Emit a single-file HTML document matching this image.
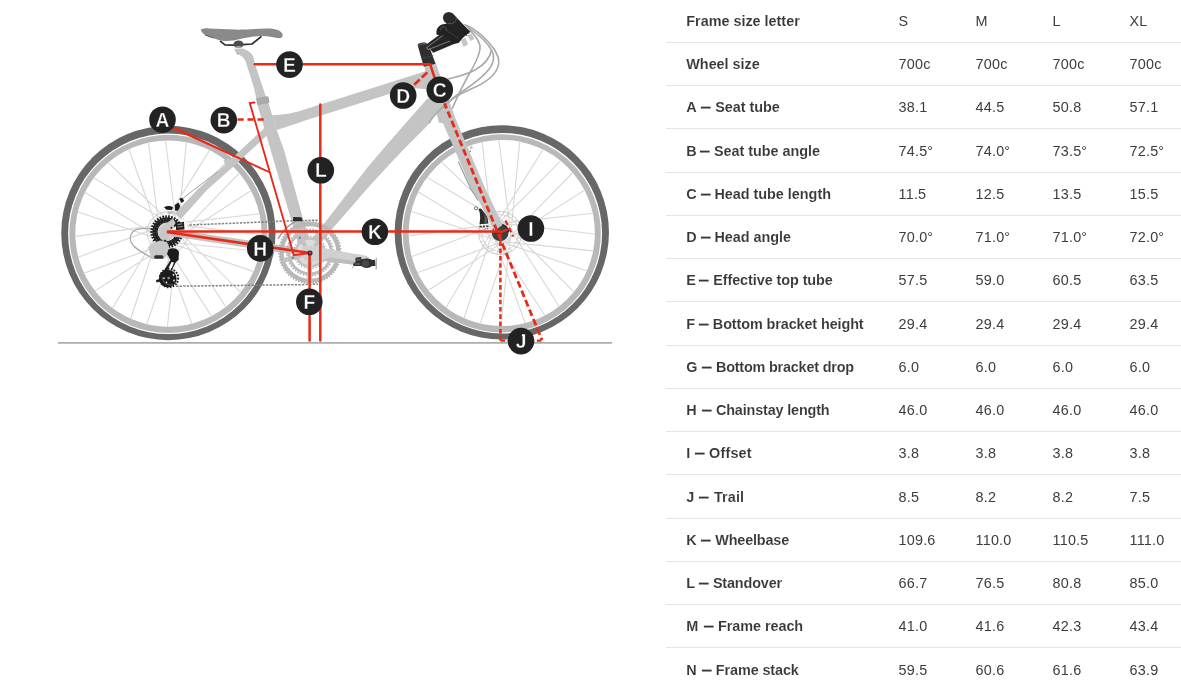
<!DOCTYPE html>
<html lang="en">
<head>
<meta charset="utf-8">
<title>Geometry</title>
<style>
html,body{margin:0;padding:0;background:#fff;}
body{width:1181px;height:688px;overflow:hidden;position:relative;font-family:"Liberation Sans",Arial,sans-serif;color:#333;}
#geo{position:absolute;left:666px;top:-1px;width:521px;border-collapse:collapse;border-spacing:0;table-layout:fixed;font-size:14.4px;will-change:transform;}
#geo tr{height:43px;}
#geo tr.x{height:44px;}
#geo th,#geo td{box-sizing:border-box;height:43px;padding:11px 0 0 20px;text-align:left;vertical-align:top;border-bottom:1px solid #e5e5e5;white-space:nowrap;line-height:20px;overflow:hidden;}
#geo tr.x th,#geo tr.x td{height:44px;}
#geo tr.f th,#geo tr.f td,#geo tr.x th,#geo tr.x td{padding-top:12px;}
#geo th{font-weight:bold;width:213px;padding-left:20.3px;color:#383838;-webkit-text-stroke:.08px #fff;}
#geo td{font-weight:normal;width:77px;padding-left:19.6px;color:#3d3d3d;letter-spacing:.18px;}
#geo .d{display:inline-block;width:10.6px;margin-left:-.2px;height:20px;vertical-align:top;letter-spacing:0;}
#geo .d i{display:inline-block;font-style:normal;transform:scaleX(.66);transform-origin:0 50%;-webkit-text-stroke:.3px #383838;}
#bike{position:absolute;left:0;top:0;will-change:transform;}
#bike text{font-family:"Liberation Sans",Arial,sans-serif;font-weight:bold;fill:#fff;text-anchor:middle;}
</style>
</head>
<body>
<svg id="bike" width="660" height="380" viewBox="0 0 660 380">
<line x1="58" y1="342.9" x2="612" y2="342.9" stroke="#adadad" stroke-width="1.6"/>
<g>
<circle cx="168.4" cy="233" r="107.15" fill="#676767"/>
<circle cx="168.4" cy="233.8" r="100.3" fill="#fff"/>
<circle cx="168.4" cy="233.9" r="99.05" fill="#b8b8b8"/>
<circle cx="168.4" cy="233.6" r="93.1" fill="#fff"/>
<path d="M163.7 240.6L84.7 192.2M173.1 225.3L93.5 177.8M174.7 226.5L108 162.4M159.9 236L128.8 149M159.5 234.1L148.6 142.3M177.3 231.8L165.4 140.2M177.4 233.9L186.4 142M160.8 228.2L209.8 149.9M162 226.7L227.4 161.2M174.9 239.3L239.5 173M173.3 240.6L251.3 190.6M167.3 224.1L259.7 213.8M169.4 224.1L261.8 234.6M167.5 242L260.1 251.4M165.6 241.5L253.7 271.6M174.7 226.6L240.8 292.6M176 228.2L225.9 307.2M160.9 237.9L211.6 316.4M159.9 236.1L191.9 324M177.3 234L167.4 327M176.9 235.9L146.7 324.4M159.9 230.2L130.6 319M160.7 228.3L112.4 308.3M173.2 240.6L94.7 291M171.4 241.5L83.8 273.2M165.3 224.6L78.1 257.3M167.3 224.1L75 236.4M165.5 241.5L77.6 211.8" fill="none" stroke="#d9d9d9" stroke-width="1.15"/>
</g>
<g>
<circle cx="501.8" cy="232.4" r="107.15" fill="#676767"/>
<circle cx="501.8" cy="233.2" r="100.3" fill="#fff"/>
<circle cx="501.8" cy="233.4" r="99.05" fill="#b8b8b8"/>
<circle cx="501.8" cy="233" r="93.1" fill="#fff"/>
<path d="M497.1 240.1L418.1 191.7M506.5 224.7L426.9 177.2M508.1 226L441.4 161.8M493.3 235.5L462.2 148.5M492.9 233.5L482 141.8M510.7 231.3L498.8 139.7M510.8 233.3L519.8 141.4M494.2 227.7L543.2 149.3M495.4 226.1L560.8 160.6M508.3 238.7L572.9 172.5M506.7 240L584.7 190M500.7 223.5L593.1 213.2M502.8 223.5L595.2 234M500.9 241.4L593.5 250.9M499 241L587.1 271M508.1 226.1L574.2 292.1M509.4 227.6L559.3 306.7M494.3 237.4L545 315.8M493.3 235.5L525.3 323.4M510.7 233.4L500.8 326.4M510.3 235.4L480.1 323.9M493.3 229.6L464 318.5M494.1 227.8L445.8 307.8M506.6 240L428.1 290.5M504.8 240.9L417.2 272.7M498.7 224L411.5 256.8M500.7 223.5L408.4 235.9M498.9 241L411 211.3" fill="none" stroke="#d9d9d9" stroke-width="1.15"/>
</g>
<g transform="translate(120 190) scale(0.1)">
<circle cx="478" cy="425" r="207" fill="none" stroke="#c9c9c9" stroke-width="9"/>
<circle cx="478" cy="425" r="188" fill="none" stroke="#dadada" stroke-width="7" stroke-dasharray="30 14"/>
<path d="M420 405 C330 385 250 375 180 392 C110 410 90 470 110 520 C140 590 250 640 335 685" fill="none" stroke="#a8a8a8" stroke-width="12"/>
<circle cx="468" cy="418" r="118" fill="none" stroke="#1e1e1e" stroke-width="52"/>
<circle cx="468" cy="418" r="152" fill="none" stroke="#1e1e1e" stroke-width="26" stroke-dasharray="17 12"/>
<circle cx="468" cy="418" r="128" fill="none" stroke="#e8e8e8" stroke-width="5" stroke-dasharray="9 26"/>
<circle cx="468" cy="418" r="104" fill="none" stroke="#e8e8e8" stroke-width="5" stroke-dasharray="7 21"/>
<circle cx="468" cy="418" r="90" fill="#d2d2d2"/>
<path d="M478 420 L650 300 L700 420 L640 470Z" fill="#fff"/>
<path d="M560 330 L640 318 L645 395 L560 400Z" fill="#1e1e1e"/>
<path d="M575 345 L625 338 M575 370 L630 366" fill="none" stroke="#e8e8e8" stroke-width="6"/>
<path d="M392 388 L530 285 L556 330 L508 402 L492 500 L440 528 L398 470Z" fill="#c8c8c8"/>
<circle cx="450" cy="512" r="14" fill="#1c1c1c"/>
<circle cx="515" cy="378" r="10" fill="#1c1c1c"/>
<path d="M440 172 C470 155 510 160 530 172 L520 200 L465 198Z" fill="#1c1c1c"/>
<path d="M548 150 L585 125 L602 160 L585 210 L550 205Z" fill="#1c1c1c"/>
<path d="M592 88 L625 78 L642 110 L615 130Z" fill="#1c1c1c"/>
<path d="M470 215 L540 212 L545 235 L480 240Z" fill="#bdbdbd"/>
<path d="M280 570 L330 530 L400 505 L470 520 L500 590 L470 660 L440 690 L330 690 L300 640Z" fill="#c8c8c8"/>
<rect x="342" y="652" width="92" height="36" rx="16" fill="#2e2e2e"/>
<path d="M485 595 C520 570 580 580 590 620 L585 700 L560 720 L490 850 L425 830 L505 700 L470 640Z" fill="#1c1c1c"/>
<path d="M515 720 L470 810 L500 820 L540 725Z" fill="#fff"/>
<circle cx="478" cy="885" r="88" fill="#1c1c1c"/>
<circle cx="490" cy="880" r="92" fill="none" stroke="#1c1c1c" stroke-width="20" stroke-dasharray="16 14"/>
<path d="M360 900 L400 890 L405 915 L365 925Z" fill="#1c1c1c"/>
<circle cx="486" cy="880" r="13" fill="#7f9aa5"/>
<circle cx="440" cy="882" r="9" fill="#ddd"/><circle cx="465" cy="925" r="9" fill="#ddd"/><circle cx="535" cy="850" r="9" fill="#ddd"/><circle cx="540" cy="905" r="9" fill="#ddd"/>
<path d="M420 870 C430 930 480 960 530 945" fill="none" stroke="#777" stroke-width="7"/>
</g>
<g transform="translate(445 195) scale(0.1)">
<circle cx="552" cy="380" r="199" fill="none" stroke="#d2d2d2" stroke-width="26" stroke-dasharray="10 38"/>
<circle cx="552" cy="380" r="215" fill="none" stroke="#bcbcbc" stroke-width="8"/>
<circle cx="552" cy="380" r="183" fill="none" stroke="#c4c4c4" stroke-width="7"/>
<circle cx="552" cy="380" r="120" fill="none" stroke="#d4d4d4" stroke-width="7"/>
<circle cx="552" cy="378" r="84" fill="#3a4043"/>
<path d="M560 292 C600 300 630 330 638 370" fill="none" stroke="#23282a" stroke-width="14"/>
<path d="M335 140 L360 135 L395 180 L425 215 L432 285 L345 292 L352 230 L348 180Z" fill="#2b2b2b"/>
<path d="M395 185 C420 215 425 250 420 285 L395 287Z" fill="#5a5a5a"/>
<circle cx="310" cy="132" r="16" fill="none" stroke="#666" stroke-width="9"/>
<path d="M345 318 L440 312" fill="none" stroke="#333" stroke-width="16" stroke-dasharray="22 12"/>
<path d="M395 340 L440 336" fill="none" stroke="#555" stroke-width="10" stroke-dasharray="14 10"/>
</g>
<g fill="#c4c4c4" stroke="none">
<polygon points="265.5,127 270,132.5 234,166 207,190 181,219 175,213.5 197,190 228,162"/>
<polygon points="223.5,160.5 229,158.5 232,163 226,166"/>
<polygon points="170,229 310,249.5 310,257 170,236"/>
<polygon points="257,103.5 268.2,102 276.2,128.6 284,150 302.6,217.2 313,250 300.5,252 290.4,217.2"/>
<path d="M272 115.2 C285 114.6 295 112.8 302 110.2 L424 71.8 L428 70.5 L440 96 L428 98.5 L426.3 89.2 L416 88.3 L405 89.3 L390 93.8 L315.5 117.2 C300 122 288 126.5 276.5 130Z"/>
<path d="M427 99 L440 95 L446 104 C438 110 432 117 429 122.5 L427.5 125.5 L410 143 L393.5 160 L370 185.5 L333 228.1 L318 247 L303 250 L325.5 221.8 L367 168.1 L384 148 L404 125Z"/>
<polygon points="424.2,66.5 435.8,63.2 457,123 439,123"/>
<polygon points="439,119 455.6,119 485,188.1 489.5,197 502.5,225 494.5,231 478.3,200 470.8,188.1 455.3,151 440.5,118"/>
</g>
<g transform="translate(195 20) scale(0.1)">
<path d="M390 287 L480 285 C530 300 565 330 582 362 L600 440 L680 681 L728 830 L622 830 L590 681 L508 420 C500 390 480 370 455 355 L412 332 Z" fill="#c4c4c4"/>
<path d="M58 98 C70 88 100 82 140 84 L400 96 C500 98 600 88 720 86 C800 86 850 100 872 135 C885 160 870 182 845 182 C800 178 740 160 670 160 C600 160 520 175 450 190 C400 205 330 215 270 208 C220 200 150 170 100 150 C80 135 60 115 58 98Z" fill="#8a8a8a"/>
<path d="M100 150 L185 180" fill="none" stroke="#555" stroke-width="9"/>
<path d="M250 208 L300 248 L395 252 M478 247 L570 240 L665 163" fill="none" stroke="#2c2c2c" stroke-width="17" stroke-linejoin="round"/>
<ellipse cx="435" cy="243" rx="50" ry="38" fill="#4d4d4d"/>
<ellipse cx="437" cy="270" rx="30" ry="10" fill="#a5a5a5"/>
<circle cx="426" cy="336" r="9" fill="#9a9a9a"/>
</g>
<path d="M256.3 99.6 Q256 98.3 257.3 98 L267 96.2 Q268.3 96 268.6 97.2 L269.4 101.6 Q269.6 102.9 268.4 103.1 L258.6 104.9 Q257.3 105.1 257 103.9Z" fill="#aaaaaa"/>
<g fill="none" stroke="#a9a9a9" stroke-width="1.6" stroke-linecap="round">
<path d="M465 24.8 C476 29 488 40 494 49 C499 57 500 62 497.5 68 C495 74 488 82 471 89 C462 93 452 98 445 105 C438 111 432 118 429 123"/>
<path d="M467 26.9 C478 34 488 43 492 51 C495 57 494 62 490 68 C485 75 475 83 463 91 C455 96 448 102 443 108"/>
<path d="M469 29.4 C476 36 481 42 480 49 C479 57 474 66 468 76 C463 85 457 97 452.5 108"/>
<path d="M491.5 50 C490 58 484 65 475 70 C466 75 456 77 448 79"/>
</g>
<path d="M458.2 161.5 L470.6 188.5 L478 200.5" fill="none" stroke="#9a9a9a" stroke-width="1.1"/>
<circle cx="471.2" cy="147.6" r="1.5" fill="#c4c4c4"/><circle cx="470.2" cy="151.2" r="0.8" fill="#777"/>
<path d="M217.6 171.8 L183.2 198" fill="none" stroke="#a2a2a2" stroke-width="1"/>
<g transform="translate(410 5) scale(0.1017293997965412)">
<path d="M498 345 L545 322 L572 385 L527 412Z" fill="#c6c6c6"/>
<path d="M563 298 L606 282 L634 335 L594 354Z" fill="#c6c6c6"/>
<path d="M75 392 C76 368 160 358 168 382 L200 440 L252 578 L135 606Z" fill="#2f2f2f"/>
<path d="M82 398 C110 380 150 374 170 388" fill="none" stroke="#8c8c8c" stroke-width="6"/>
<path d="M118 525 L232 497" fill="none" stroke="#555" stroke-width="5"/>
<path d="M160 388 L330 262 L450 375 L228 470Z" fill="#262626"/>
<path d="M345 283 L163 418 L176 440 L405 350" fill="none" stroke="#b4b4b4" stroke-width="6" stroke-linejoin="round"/>
<path d="M262 292 C252 240 275 200 325 188 L410 178 L565 250 L588 275 L545 290 L478 374 L425 384 L335 300Z" fill="#222"/>
<path d="M300 250 C300 215 335 205 350 225 L365 255" fill="none" stroke="#777" stroke-width="6"/>
<path d="M365 255 L480 330" fill="none" stroke="#555" stroke-width="5"/>
<path d="M420 84 L592 262 L505 335 L338 160Z" fill="#232323"/>
<circle cx="381" cy="125" r="57" fill="#2b2b2b"/>
<path d="M372 180 C420 195 465 165 452 112" fill="none" stroke="#777" stroke-width="6"/>
<path d="M540 270 L560 305" fill="none" stroke="#222" stroke-width="8"/>
</g>
<path d="M189.5 225 L297 220.6 L318 220.2 M176 286.2 L304.5 284.6 L318 284.2" fill="none" stroke="#808080" stroke-width="1.5" stroke-dasharray="2.3 1.3"/>
<path d="M302.5 219.3 C294 220.5 284 228 278 239" fill="none" stroke="#999" stroke-width="1.5"/>
<circle cx="310" cy="252.5" r="28.4" fill="none" stroke="#b8b8b8" stroke-width="4.2"/>
<circle cx="310" cy="252.5" r="30.8" fill="none" stroke="#b0b0b0" stroke-width="1.8" stroke-dasharray="1.5 1.45"/>
<circle cx="310" cy="252.5" r="21.2" fill="none" stroke="#bdbdbd" stroke-width="3"/>
<circle cx="310" cy="252.5" r="23.2" fill="none" stroke="#b4b4b4" stroke-width="1.6" stroke-dasharray="1.5 1.5"/>
<circle cx="310" cy="252.5" r="14" fill="#dcdcdc" stroke="#c2c2c2" stroke-width="2.6"/>
<circle cx="310" cy="252.5" r="16" fill="none" stroke="#b8b8b8" stroke-width="1.5" stroke-dasharray="1.5 1.5"/>
<path d="M304.3 244.3L294.8 230.8M316 244.5L325.9 231.3M319.5 255.8L335.1 261.1M309.8 262.5L309.5 279M300.4 255.4L284.7 260.2" fill="none" stroke="#c2c2c2" stroke-width="4.5" stroke-linecap="round"/>
<circle cx="299.7" cy="237.8" r="1.1" fill="#777"/>
<circle cx="320.8" cy="238.1" r="1.1" fill="#777"/>
<circle cx="327" cy="258.4" r="1.1" fill="#777"/>
<circle cx="309.7" cy="270.5" r="1.1" fill="#777"/>
<circle cx="292.8" cy="257.8" r="1.1" fill="#777"/>
<path d="M303 246.5 C306 244.5 315 245.5 321 247.5 L341 251.5 L365 255.5 C370 256.5 370 259 367 260.5 L352 264.5 L321 260.5 L309 262 C303 262 300 252 303 246.5Z" fill="#d0d0d0"/>
<path d="M321 260.5 L352 264.5 L362 262 L330 257.5Z" fill="#bdbdbd"/>
<g transform="translate(265 210) scale(0.1)">
<path d="M905 478 L960 470 L965 492 L1000 488 C1030 482 1060 492 1075 500 L1100 497 L1105 560 L1070 560 C1040 585 990 585 965 560 L885 560 L880 540 L905 520Z" fill="#303030"/>
<circle cx="1005" cy="535" r="36" fill="#474747"/>
<path d="M1112 480 L1112 592" stroke="#8e8e8e" stroke-width="10" fill="none"/>
<path d="M915 500 L955 497 M900 540 L950 540" stroke="#9a9a9a" stroke-width="7" fill="none"/>
<path d="M885 560 L872 585" stroke="#8e8e8e" stroke-width="7" fill="none"/>
</g>
<path d="M293.2 217 L301.5 217.2 L302.5 221.2 L293 221Z" fill="#2a2a2a"/>
<g fill="none" stroke="#e82b19" stroke-linecap="round">
<path d="M254.8 64.2 L430.3 64.2" stroke-width="2.5"/>
<path d="M430.3 64.7 L435 79" stroke-width="2.5"/>
<path d="M320.3 104.5 L320.3 340.4" stroke-width="2.5"/>
<path d="M309.6 253 L309.6 340.4" stroke-width="2.5"/>
<path d="M168 231.4 L500.5 231.4" stroke-width="2.5"/>
<path d="M168 232.3 L310 253" stroke-width="2.6"/>
<path d="M254.5 102.5 L249.8 103.1 L293.8 255.2 L310 253" stroke-width="1.9" stroke-linejoin="miter"/>
</g>
<path d="M170.6 127.9 L171.8 125.5 L270 171.6 L269.2 173.1Z" fill="#e82b19"/>
<g fill="none" stroke="#e82b19" stroke-linecap="butt">
<path d="M237.5 119.5 L264 119.5" stroke-width="2.6" stroke-dasharray="6.2 3.8"/>
<path d="M414.2 84.7 L428.6 71.2" stroke-width="2.7" stroke-dasharray="7.6 2.8"/>
<path d="M444.5 103.4 L542 340" stroke-width="2.8" stroke-dasharray="6.9 3.3" stroke-dashoffset="1.5"/>
<path d="M500.4 234 L500.4 340.5" stroke-width="2.5" stroke-dasharray="4.6 2.7"/>
<path d="M500.4 340.7 L541.5 340.7" stroke-width="2.3" stroke-dasharray="4.6 2.7"/>
<path d="M505.5 220.5 L513.2 236.4" stroke-width="2.3" stroke-dasharray="5 3"/>
<path d="M499.7 232.4 L507.6 229.6" stroke-width="2.3"/>
</g>
<circle cx="310" cy="253" r="2" fill="#e82b19" stroke="#1d2a2e" stroke-width="1.1"/>
<circle cx="162.5" cy="119.7" r="13.3" fill="#222"/><text transform="translate(162.5 126.8) scale(0.96 1)" font-size="20" stroke="#222" stroke-width="0.3">A</text>
<circle cx="223.8" cy="120.1" r="13.3" fill="#222"/><text transform="translate(223.8 127.2) scale(0.96 1)" font-size="20" stroke="#222" stroke-width="0.3">B</text>
<circle cx="439.8" cy="89.8" r="13.3" fill="#222"/><text transform="translate(439.8 96.9) scale(0.96 1)" font-size="20" stroke="#222" stroke-width="0.3">C</text>
<circle cx="403.2" cy="95.5" r="13.3" fill="#222"/><text transform="translate(403.2 102.6) scale(0.96 1)" font-size="20" stroke="#222" stroke-width="0.3">D</text>
<circle cx="289.5" cy="64.6" r="13.3" fill="#222"/><text transform="translate(289.5 71.7) scale(0.96 1)" font-size="20" stroke="#222" stroke-width="0.3">E</text>
<circle cx="309.3" cy="301.8" r="13.3" fill="#222"/><text transform="translate(309.3 308.9) scale(0.96 1)" font-size="20" stroke="#222" stroke-width="0.3">F</text>
<circle cx="260.2" cy="248.4" r="13.3" fill="#222"/><text transform="translate(260.2 255.5) scale(0.96 1)" font-size="20" stroke="#222" stroke-width="0.3">H</text>
<circle cx="530.9" cy="228.5" r="13.3" fill="#222"/><text transform="translate(530.9 235.6) scale(0.96 1)" font-size="20" stroke="#222" stroke-width="0.3">I</text>
<circle cx="521" cy="341.1" r="13.3" fill="#222"/><text transform="translate(521 348.2) scale(0.96 1)" font-size="20" stroke="#222" stroke-width="0.3">J</text><rect x="518.8" y="333.6" width="3.1" height="3.2" fill="#222"/>
<circle cx="374.9" cy="231.8" r="13.3" fill="#222"/><text transform="translate(374.9 238.9) scale(0.96 1)" font-size="20" stroke="#222" stroke-width="0.3">K</text>
<circle cx="320.8" cy="170.3" r="13.3" fill="#222"/><text transform="translate(320.8 177.4) scale(0.96 1)" font-size="20" stroke="#222" stroke-width="0.3">L</text>
</svg>
<table id="geo">
<tr class="f"><th><span style="letter-spacing:-0.008px">Frame size letter</span></th><td>S</td><td>M</td><td>L</td><td>XL</td></tr>
<tr><th><span style="letter-spacing:-0.022px">Wheel size</span></th><td>700c</td><td>700c</td><td>700c</td><td>700c</td></tr>
<tr><th>A <span class="d" style="margin-left:0.85px;width:10.29px"><i>—</i></span> <span style="letter-spacing:-0.026px">Seat tube</span></th><td>38.1</td><td>44.5</td><td>50.8</td><td>57.1</td></tr>
<tr class="x"><th>B <span class="d" style="margin-left:-0.4px;width:9.72px"><i>—</i></span> <span style="letter-spacing:-0.032px">Seat tube angle</span></th><td>74.5°</td><td>74.0°</td><td>73.5°</td><td>72.5°</td></tr>
<tr><th>C <span class="d" style="margin-left:0.3px;width:9.41px"><i>—</i></span> <span style="letter-spacing:-0.012px">Head tube length</span></th><td>11.5</td><td>12.5</td><td>13.5</td><td>15.5</td></tr>
<tr><th>D <span class="d" style="margin-left:0.3px;width:9.41px"><i>—</i></span> <span style="letter-spacing:-0.024px">Head angle</span></th><td>70.0°</td><td>71.0°</td><td>71.0°</td><td>72.0°</td></tr>
<tr><th>E <span class="d" style="margin-left:-0.6px;width:9.87px"><i>—</i></span> <span style="letter-spacing:-0.064px">Effective top tube</span></th><td>57.5</td><td>59.0</td><td>60.5</td><td>63.5</td></tr>
<tr class="x"><th>F <span class="d" style="margin-left:-0.3px;width:10.07px"><i>—</i></span> <span style="letter-spacing:-0.096px">Bottom bracket height</span></th><td>29.4</td><td>29.4</td><td>29.4</td><td>29.4</td></tr>
<tr><th>G <span class="d" style="margin-left:0.1px;width:10.33px"><i>—</i></span> <span style="letter-spacing:-0.186px">Bottom bracket drop</span></th><td>6.0</td><td>6.0</td><td>6.0</td><td>6.0</td></tr>
<tr><th>H <span class="d" style="margin-left:1.1px;width:10.19px"><i>—</i></span> <span style="letter-spacing:-0.157px">Chainstay length</span></th><td>46.0</td><td>46.0</td><td>46.0</td><td>46.0</td></tr>
<tr><th>I <span class="d" style="margin-left:0.35px;width:10.48px"><i>—</i></span> <span style="letter-spacing:0.179px">Offset</span></th><td>3.8</td><td>3.8</td><td>3.8</td><td>3.8</td></tr>
<tr class="x"><th>J <span class="d" style="margin-left:0.55px;width:11.05px"><i>—</i></span> <span style="letter-spacing:0.129px">Trail</span></th><td>8.5</td><td>8.2</td><td>8.2</td><td>7.5</td></tr>
<tr><th>K <span class="d" style="margin-left:0.3px;width:10.25px"><i>—</i></span> <span style="letter-spacing:-0.161px">Wheelbase</span></th><td>109.6</td><td>110.0</td><td>110.5</td><td>111.0</td></tr>
<tr><th>L <span class="d" style="margin-left:-0.15px;width:10.22px"><i>—</i></span> <span style="letter-spacing:-0.147px">Standover</span></th><td>66.7</td><td>76.5</td><td>80.8</td><td>85.0</td></tr>
<tr><th>M <span class="d" style="margin-left:2.1px;width:9.55px"><i>—</i></span> <span style="letter-spacing:-0.037px">Frame reach</span></th><td>41.0</td><td>41.6</td><td>42.3</td><td>43.4</td></tr>
<tr class="x"><th>N <span class="d" style="margin-left:1.1px;width:10.04px"><i>—</i></span> <span style="letter-spacing:-0.096px">Frame stack</span></th><td>59.5</td><td>60.6</td><td>61.6</td><td>63.9</td></tr>
</table>

</body>
</html>
